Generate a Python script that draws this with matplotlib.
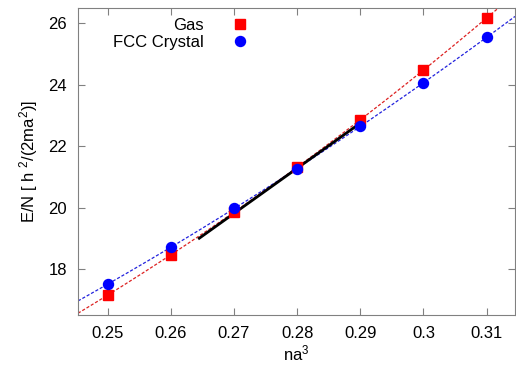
import numpy as np
import matplotlib
matplotlib.use("Agg")
import matplotlib.pyplot as plt

plt.rcParams['font.family'] = ['Liberation Sans', 'DejaVu Sans']
plt.rcParams['mathtext.fontset'] = 'custom'
plt.rcParams['mathtext.rm'] = 'Liberation Sans'
plt.rcParams['mathtext.it'] = 'Liberation Sans'

# densities na^3
density = [0.25, 0.26, 0.27, 0.28, 0.29, 0.30, 0.31]
gas_energy = [17.15, 18.46, 19.84, 21.32, 22.86, 24.48, 26.17]
fcc_energy = [17.50, 18.71, 19.97, 21.27, 22.65, 24.05, 25.55]

# common tangent (coexistence) line end points
tangent_x = [0.2645, 0.29]
tangent_y = [19.0, 22.75]

xticks = [0.25, 0.26, 0.27, 0.28, 0.29, 0.3, 0.31]
xticklabels = ['0.25', '0.26', '0.27', '0.28', '0.29', '0.3', '0.31']
yticks = [18, 20, 22, 24, 26]

fig = plt.figure(figsize=(5.16, 3.66), dpi=100)
ax = fig.add_axes([78 / 516, 51 / 366, 437 / 516, 307 / 366])

xlim = (0.2453, 0.3145)
xs = np.linspace(xlim[0], xlim[1], 200)

# quadratic fits through the data
gas_fit = np.polyfit(density, gas_energy, 2)
fcc_fit = np.polyfit(density, fcc_energy, 2)
ax.plot(xs, np.polyval(gas_fit, xs), color='#dd2222', lw=0.9, dashes=(2.5, 1.5))
ax.plot(xs, np.polyval(fcc_fit, xs), color='#2222dd', lw=0.9, dashes=(2.5, 1.5))

ax.plot(tangent_x, tangent_y, color='black', lw=2)

ax.plot(density, gas_energy, 's', color='red', ms=7.3, label='Gas', zorder=3)
ax.plot(density, fcc_energy, 'o', color='blue', ms=7.2, label='FCC Crystal', zorder=3)

ax.set_xlim(*xlim)
ax.set_ylim(16.5, 26.5)
ax.set_xticks(xticks)
ax.set_xticklabels(xticklabels)
ax.set_yticks(yticks)
ax.tick_params(direction='in', length=5, color='#808080', labelsize=12,
               top=True, right=True, pad=8)
for s in ax.spines.values():
    s.set_color('#808080')

ax.set_xlabel('na$^{3}$', fontsize=12, labelpad=2)
ax.set_ylabel('E/N [ h $^{2}$/(2ma$^{2}$)]', fontsize=12, labelpad=6)

ax.legend(loc='upper right', bbox_to_anchor=(0.405, 0.99), frameon=False,
          markerfirst=False, fontsize=12, handletextpad=1.7,
          borderaxespad=0.0, labelspacing=0.12, handlelength=1.0)

fig.savefig('out.png', dpi=100)
